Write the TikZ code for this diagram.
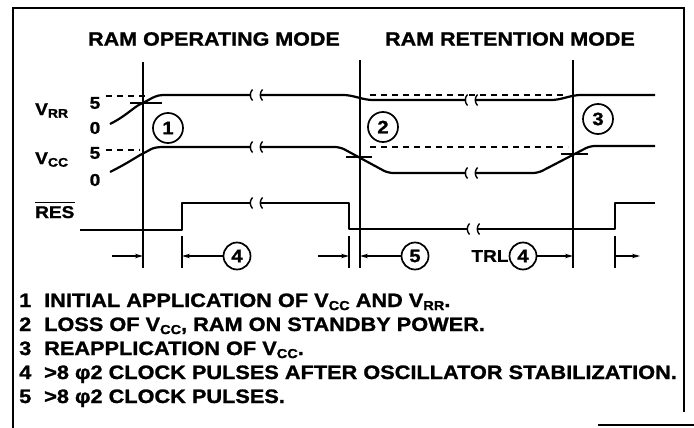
\documentclass[tikz,border=0pt]{standalone}
\usepackage{fontspec}
\setmainfont{Liberation Sans}[FakeStretch=1.12, BoldFeatures={FakeBold=1.2}]
\usetikzlibrary{arrows.meta}
\newcommand\lsub[1]{\raisebox{-0.3ex}{\fontsize{13}{13}\selectfont #1}}
\newcommand\bsub[1]{\raisebox{-0.3ex}{\fontsize{12.5}{12.5}\selectfont #1}}
\tikzset{
  wave/.style={line width=2.2pt, line join=round, rounded corners=5pt},
  guide/.style={line width=1.4pt},
  dash5/.style={line width=1.4pt, dash pattern=on 6pt off 5pt},
  tickmark/.style={line width=1.4pt},
  frameline/.style={line width=1.6pt},
  dimarrow/.style={line width=1.4pt, -{Stealth[length=8pt,width=4.5pt]}},
  numc/.style={circle, draw, line width=1.7pt, minimum size=30pt, inner sep=0pt, font=\bfseries\fontsize{18}{18}\selectfont},
  numcs/.style={numc, minimum size=27pt},
  titletext/.style={inner sep=0pt, font=\bfseries\fontsize{19.2}{19}\selectfont},
  lbl/.style={inner sep=0pt, font=\bfseries\fontsize{17}{17}\selectfont},
  legtext/.style={anchor=base west, inner sep=0pt, font=\bfseries\fontsize{19.4}{19}\selectfont},
  brk/.pic={\draw[line width=1.4pt] (1.5,-5.5) .. controls (-1.5,-2) and (-1.5,2) .. (1.5,5.5);}
}
\begin{document}
\begin{tikzpicture}[x=1pt,y=-1pt]
\useasboundingbox (0,0) rectangle (694,428);
% frame
\draw[frameline] (13,428) -- (13,8) -- (684,8) -- (684,412);
\draw[frameline] (598,425) -- (694,425);
% titles
\node[titletext] (t_op) at (214,39) {RAM OPERATING MODE};
\node[titletext] (t_ret) at (510,39) {RAM RETENTION MODE};
% signal labels
\node[lbl, anchor=base west] (lvrr) at (35,115) {V\bsub{RR}};
\node[lbl, anchor=base west] (lvcc) at (35,164) {V\bsub{CC}};
\node[lbl, anchor=base west] (lres) at (35,218) {RES};
\draw[line width=1pt] ([yshift=3pt]lres.north west) -- ([yshift=3pt]lres.north east);
\node[lbl] (r5) at (95,103) {5};
\node[lbl] (r0) at (95,128) {0};
\node[lbl] (c5) at (95,153) {5};
\node[lbl] (c0) at (95,180) {0};
% vertical guides
\draw[guide] (143,62) -- (143,268);
\draw[guide] (360,60) -- (360,268);
\draw[guide] (573,60) -- (573,268);
\draw[guide] (182,236) -- (182,268);
\draw[guide] (349,236) -- (349,268);
\draw[guide] (615,236) -- (615,268);
% dashed 5V references
\draw[dash5] (106,96) -- (146,96);
\draw[dash5] (106,150) -- (140,150);
\draw[dash5] (370,95) -- (566,95);
\draw[dash5] (370,147) -- (568,147);
% crossing ticks
\draw[tickmark] (130,103) -- (162,103);
\draw[tickmark] (346,157) -- (372,157);
\draw[tickmark] (561,154) -- (588,154);
% VRR
\draw[wave] (110,124) .. controls (126,116) and (134,107) .. (145,102) .. controls (152,98) and (157,95) .. (168,95) -- (251,95);
\draw[wave] (261,95) -- (348,95) -- (368,100) -- (466,100);
\draw[wave] (476,100) -- (556,100) -- (576,95) -- (655,95);
% VCC
\draw[wave] (110,172) .. controls (128,163) and (138,156) .. (146,152) .. controls (153,148) and (157,147) .. (168,147) -- (251,147);
\draw[wave] (261,147) -- (340,147) -- (388,173) -- (466,173);
\draw[wave] (476,173) -- (538,173) -- (590,146) -- (655,146);
% RES
\draw[wave, rounded corners=0pt] (80,230) -- (182,230) -- (182,203) -- (251,203);
\draw[wave, rounded corners=0pt] (261,203) -- (349,203) -- (349,229) -- (468,229);
\draw[wave, rounded corners=0pt] (478,229) -- (615,229) -- (615,203) -- (655,203);
% break marks
\foreach \x/\y in {251/95,261/95,251/147,261/147,251/203,261/203,466/100,476/100,466/173,476/173,468/229,478/229}
  \pic at (\x,\y) {brk};
% event circles
\node[numc] (e1) at (168,128) {1};
\node[numc] (e2) at (383,127) {2};
\node[numc] (e3) at (598,119) {3};
% interval markers
\node[numcs] (i4a) at (237,256) {4};
\node[numcs] (i5) at (415,256) {5};
\node[numcs] (i4b) at (523,256) {4};
\node[lbl, anchor=east] (trl) at (i4b.west) {TRL};
\coordinate (a1s) at (112,256);
\coordinate (a1e) at (143,256);
\coordinate (a2e) at (182,256);
\coordinate (a3s) at (318,256);
\coordinate (a3e) at (349,256);
\coordinate (a4e) at (360,256);
\coordinate (a5e) at (573,256);
\coordinate (a6s) at (615,256);
\coordinate (a6e) at (640,256);
\draw[dimarrow] (a1s) -- (a1e);
\draw[dimarrow] (i4a.west) -- (a2e);
\draw[dimarrow] (a3s) -- (a3e);
\draw[dimarrow] (i5.west) -- (a4e);
\draw[dimarrow] (i4b.east) -- (a5e);
\draw[dimarrow] (a6s) -- (a6e);
% legend
\node[legtext] (n1) at (19,307) {1};
\node[legtext] (l1) at (44,307) {INITIAL APPLICATION OF V\lsub{CC} AND V\lsub{RR}.};
\node[legtext] (n2) at (19,331) {2};
\node[legtext] (l2) at (44,331) {LOSS OF V\lsub{CC}, RAM ON STANDBY POWER.};
\node[legtext] (n3) at (19,355) {3};
\node[legtext] (l3) at (44,355) {REAPPLICATION OF V\lsub{CC}.};
\node[legtext] (n4) at (19,379) {4};
\node[legtext] (l4) at (44,379) {>8 φ2 CLOCK PULSES AFTER OSCILLATOR STABILIZATION.};
\node[legtext] (n5) at (19,403) {5};
\node[legtext] (l5) at (44,403) {>8 φ2 CLOCK PULSES.};
\end{tikzpicture}
\end{document}
